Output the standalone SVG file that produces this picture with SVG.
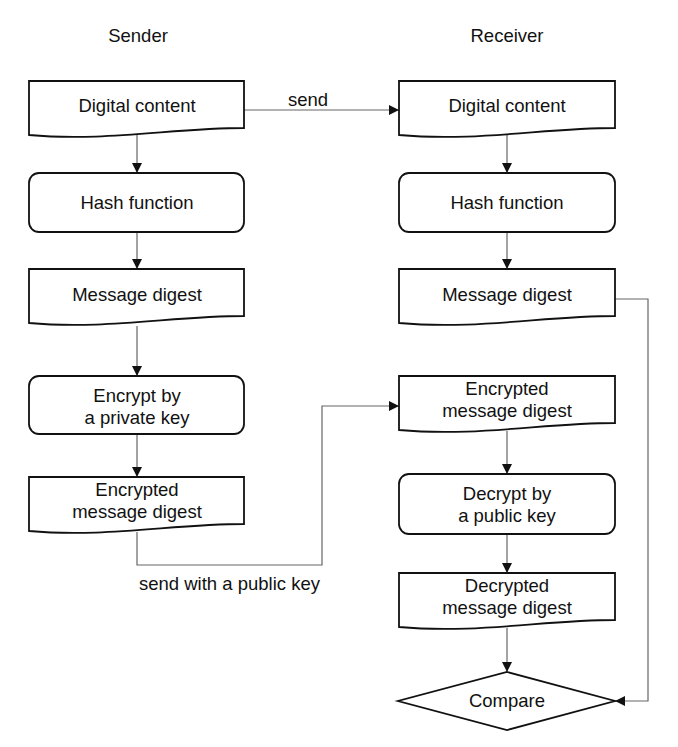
<svg xmlns="http://www.w3.org/2000/svg" width="678" height="747" viewBox="0 0 678 747">
<style>
.box{fill:#fff;stroke:#111;stroke-width:1.8}
.t{font-family:"Liberation Sans",Arial,sans-serif;font-size:18.5px;fill:#111;text-anchor:middle}
.lbl{font-family:"Liberation Sans",Arial,sans-serif;font-size:18.5px;fill:#111}
.c{fill:none;stroke:#666;stroke-width:1.2}
</style>
<defs>
<marker id="arr" markerUnits="userSpaceOnUse" markerWidth="11" markerHeight="11" refX="10" refY="5" orient="auto">
<path d="M0,0 L10,5 L0,10 z" fill="#111"/>
</marker>
</defs>
<rect width="678" height="747" fill="#fff"/>
<text class="t" x="138" y="42">Sender</text>
<text class="t" x="507" y="42">Receiver</text>

<g id="connectors">
<line class="c" x1="137" y1="135" x2="137" y2="173" marker-end="url(#arr)"/>
<line class="c" x1="137" y1="232" x2="137" y2="269" marker-end="url(#arr)"/>
<line class="c" x1="137" y1="326" x2="137" y2="376" marker-end="url(#arr)"/>
<line class="c" x1="137" y1="434" x2="137" y2="477" marker-end="url(#arr)"/>
<line class="c" x1="507" y1="135" x2="507" y2="173" marker-end="url(#arr)"/>
<line class="c" x1="507" y1="232" x2="507" y2="269" marker-end="url(#arr)"/>
<line class="c" x1="507" y1="431" x2="507" y2="474" marker-end="url(#arr)"/>
<line class="c" x1="507" y1="534" x2="507" y2="573" marker-end="url(#arr)"/>
<line class="c" x1="507" y1="628" x2="507" y2="672" marker-end="url(#arr)"/>
<line class="c" x1="244" y1="110" x2="399" y2="110" marker-end="url(#arr)"/>
<polyline class="c" points="137,532 137,565 322,565 322,406 399,406" marker-end="url(#arr)"/>
<polyline class="c" points="615,299 648,299 648,701 615,701" marker-end="url(#arr)"/>
<text class="lbl" x="288" y="105.5">send</text>
<text class="lbl" x="139" y="590">send with a public key</text>
</g>

<g id="s-digital">
<path class="box" d="M29,81 H244 V128 C174,128 104,142 29,135 Z"/>
<text class="t" x="137" y="112">Digital content</text>
</g>
<g id="s-hash">
<rect class="box" x="29" y="173" width="215" height="59" rx="10"/>
<text class="t" x="137" y="209">Hash function</text>
</g>
<g id="s-digest">
<path class="box" d="M29,269 H244 V316 C174,316 104,330 29,323 Z"/>
<text class="t" x="137" y="301">Message digest</text>
</g>
<g id="s-encrypt">
<rect class="box" x="29" y="376" width="215" height="58" rx="10"/>
<text class="t" x="137" y="402">Encrypt by</text>
<text class="t" x="137" y="424">a private key</text>
</g>
<g id="s-encdigest">
<path class="box" d="M29,477 H244 V524 C174,524 104,538 29,531 Z"/>
<text class="t" x="137" y="496">Encrypted</text>
<text class="t" x="137" y="518">message digest</text>
</g>

<g id="r-digital">
<path class="box" d="M399,81 H615 V128 C545,128 475,142 399,135 Z"/>
<text class="t" x="507" y="112">Digital content</text>
</g>
<g id="r-hash">
<rect class="box" x="399" y="173" width="216" height="59" rx="10"/>
<text class="t" x="507" y="209">Hash function</text>
</g>
<g id="r-digest">
<path class="box" d="M399,269 H615 V316 C545,316 475,330 399,323 Z"/>
<text class="t" x="507" y="301">Message digest</text>
</g>
<g id="r-encdigest">
<path class="box" d="M399,376 H615 V423 C545,423 475,437 399,430 Z"/>
<text class="t" x="507" y="395">Encrypted</text>
<text class="t" x="507" y="417">message digest</text>
</g>
<g id="r-decrypt">
<rect class="box" x="399" y="474" width="216" height="60" rx="10"/>
<text class="t" x="507" y="500">Decrypt by</text>
<text class="t" x="507" y="522">a public key</text>
</g>
<g id="r-decdigest">
<path class="box" d="M399,573 H615 V620 C545,620 475,634 399,627 Z"/>
<text class="t" x="507" y="592">Decrypted</text>
<text class="t" x="507" y="614">message digest</text>
</g>
<g id="r-compare">
<path class="box" d="M507,672 L615,701 L507,730 L398,701 Z"/>
<text class="t" x="507" y="707">Compare</text>
</g>
</svg>
